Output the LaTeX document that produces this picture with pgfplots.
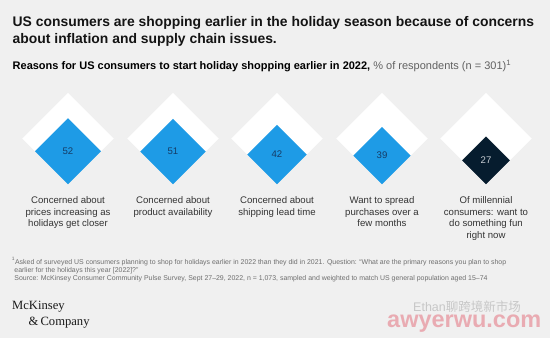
\documentclass[border=0pt]{standalone}
\usepackage{pgfplots}
\pgfplotsset{compat=1.18}
\usepackage{pgfplotstable}
\usepackage{fontspec}
\setmainfont{Liberation Sans}
\newfontfamily\logofont{Liberation Serif}
\newfontfamily\cjk{Noto Sans CJK SC}
\definecolor{bg}{HTML}{F0F0F0}
\definecolor{mckblue}{HTML}{1E9BE6}
\definecolor{mckdark}{HTML}{061C2E}
\definecolor{numblue}{HTML}{163C66}
\definecolor{numlight}{HTML}{C8CDD3}
\definecolor{txt}{HTML}{333333}
\definecolor{foot}{HTML}{6E6E6E}
\definecolor{wmpink}{HTML}{E8A0A8}

% white reference diamonds (100%)
\pgfplotstableread{
x y v
68 184 100
173 184 100
277 184 100
382 184 100
486 184 100
}\refdata
% share of respondents
\pgfplotstableread{
x y v
68 184 52
173 184 51
277 184 42
382 184 39
}\bluedata
\pgfplotstableread{
x y v
486 184 27
}\darkdata

\pgfplotsset{
  diamond plot/.style 2 args={
    scatter, only marks, mark=square*,
    visualization depends on={\thisrow{v} \as \val},
    scatter/@pre marker code/.code={%
      \pgfscope
      \pgfmathsetmacro{\hh}{45.5*sqrt(\val/100)}%
      \pgftransformshift{\pgfqpoint{0pt}{\hh pt}}%
      \pgfscope
      \pgftransformrotate{45}%
      \pgfmathsetmacro{\ms}{\hh/sqrt(2)}%
      \pgfsetplotmarksize{\ms pt}%
      \pgfsetfillcolor{#1}\pgfsetstrokecolor{#1}%
      \pgfsetlinewidth{0.1pt}%
    },
    scatter/@post marker code/.code={%
      \endpgfscope
      #2%
      \endpgfscope
    },
  },
}

\begin{document}
\begin{tikzpicture}
\begin{axis}[
  width=550pt, height=338pt, scale only axis,
  xmin=0, xmax=550, ymin=0, ymax=338, y dir=reverse,
  hide axis, clip=false,
]
\fill[bg] (axis cs:0,0) rectangle (axis cs:550,338);

% title
\node[anchor=base west, inner sep=0, text=black!92, font=\fontsize{13.9}{16}\selectfont\bfseries]
  at (axis cs:12.5,26.7) {US consumers are shopping earlier in the holiday season because of concerns};
\node[anchor=base west, inner sep=0, text=black!92, font=\fontsize{13.9}{16}\selectfont\bfseries]
  at (axis cs:12.5,43.5) {about inflation and supply chain issues.};
% subtitle
\node[anchor=base west, inner sep=0, font=\fontsize{11}{12}\selectfont]
  at (axis cs:12.5,69.3) {\textbf{Reasons for US consumers to start holiday shopping earlier in 2022,} \textcolor{black!62}{\% of respondents (n = 301)\textsuperscript{1}}};

\addplot[diamond plot={white}{}] table[x=x, y=y] {\refdata};
\addplot[diamond plot={mckblue}{\pgftext{\color{numblue}\fontsize{9.6}{11}\selectfont\pgfmathprintnumber[assume math mode=true]{\val}}}] table[x=x, y=y] {\bluedata};
\addplot[diamond plot={mckdark}{\pgftext{\color{numlight}\fontsize{9.6}{11}\selectfont\pgfmathprintnumber[assume math mode=true]{\val}}}] table[x=x, y=y] {\darkdata};

% category labels
\tikzset{catlab/.style={anchor=north, inner sep=0, align=center, text=txt, font=\fontsize{9.6}{11.5}\selectfont}}
\node[catlab] at (axis cs:68,196.5) {Concerned about\\prices increasing as\\holidays get closer};
\node[catlab] at (axis cs:173,196.5) {Concerned about\\product availability};
\node[catlab] at (axis cs:277,196.5) {Concerned about\\shipping lead time};
\node[catlab] at (axis cs:382,196.5) {Want to spread\\purchases over a\\few months};
\node[catlab] at (axis cs:486,196.5) {Of millennial\\consumers: want to\\do something fun\\right now};

% footnotes
\tikzset{foot/.style={anchor=base west, inner sep=0, text=foot, font=\fontsize{6.95}{8}\selectfont}}
\node[foot] at (axis cs:11.7,264) {\textsuperscript{1}Asked of surveyed US consumers planning to shop for holidays earlier in 2022 than they did in 2021. Question: ``What are the primary reasons you plan to shop};
\node[foot] at (axis cs:14.2,272) {earlier for the holidays this year [2022]?''};
\node[foot] at (axis cs:14.2,280.3) {Source: McKinsey Consumer Community Pulse Survey, Sept 27--29, 2022, n = 1,073, sampled and weighted to match US general population aged 15--74};

% logo
\node[anchor=base west, inner sep=0, text=black!90, font=\logofont\fontsize{12.6}{15}\selectfont] at (axis cs:12,309) {McKinsey};
\node[anchor=base west, inner sep=0, text=black!90, font=\logofont\fontsize{12.6}{15}\selectfont] at (axis cs:28.5,325) {\&\,Company};

% watermark
\node[anchor=base west, inner sep=0, text=wmpink, opacity=0.85, font=\fontsize{23.5}{25}\selectfont\bfseries] at (axis cs:387,327) {awyerwu.com};
\node[anchor=base west, inner sep=0, text=black!22, font=\fontsize{12.5}{15}\selectfont] at (axis cs:413,311) {Ethan{\cjk 聊跨境新市场}};
\end{axis}
\end{tikzpicture}
\end{document}
